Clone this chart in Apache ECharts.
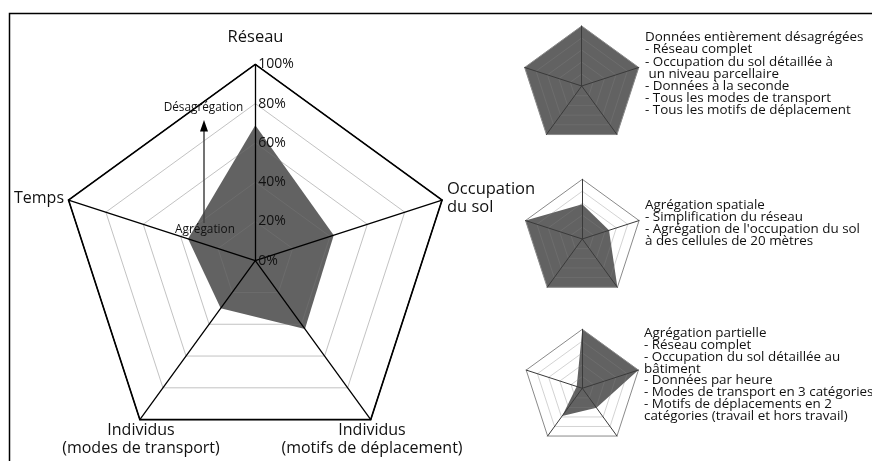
<!DOCTYPE html>
<html>
<head>
<meta charset="utf-8">
<script src="https://cdn.jsdelivr.net/npm/echarts@6/dist/echarts.min.js"></script>
<style>
html,body{margin:0;padding:0;background:#fff;}
#chart{width:872px;height:461px;}
</style>
</head>
<body>
<div id="chart"></div>
<script>
// Axes (ECharts radar places indicators counter-clockwise from the top)
const axisNames = ['Réseau', 'Temps', 'Individus\n(modes de transport)', 'Individus\n(motifs de déplacement)', 'Occupation\ndu sol'];
const tickValues = [0, 20, 40, 60, 80, 100];

// Values (% of disaggregation) in the same order as axisNames
const mainValues = [69, 36, 30, 43, 42];
const fullValues = [100, 100, 100, 100, 100];
const spatialValues = [58, 100, 100, 100, 47];
const partialValues = [100, 10, 58, 41, 100];

const block1 = ['Données entièrement désagrégées', '- Réseau complet', '- Occupation du sol détaillée à', ' un niveau parcellaire', '- Données à la seconde', '- Tous les modes de transport', '- Tous les motifs de déplacement'];
const block2 = ['Agrégation spatiale', '- Simplification du réseau', "- Agrégation de l'occupation du sol", 'à des cellules de 20 mètres'];
const block3 = ['Agrégation partielle', '- Réseau complet', '- Occupation du sol détaillée au', 'bâtiment', '- Données par heure', '- Modes de transport en 3 catégories', '- Motifs de déplacements en 2', 'catégories (travail et hors travail)'];

const FONT = '"Open Sans", "Noto Sans", sans-serif';
const indicator = axisNames.map(n => ({ name: n, min: 0, max: 100 }));
const gridGray = 'rgba(120,120,120,0.45)';

function smallRadar(cx, cy, r, z) {
  return {
    center: [cx, cy], radius: r, startAngle: 90, splitNumber: 5, shape: 'polygon',
    indicator: indicator, z: z || 3,
    axisName: { show: false },
    axisLine: { lineStyle: { color: '#3a3a3a', width: 1 } },
    axisTick: { show: false }, axisLabel: { show: false },
    splitArea: { show: false },
    splitLine: { lineStyle: { color: ['rgba(0,0,0,0)', 'rgba(130,130,130,0.35)', 'rgba(130,130,130,0.35)', 'rgba(130,130,130,0.35)', 'rgba(130,130,130,0.35)', '#8a8a8a'], width: 1 } }
  };
}

const mainC = [255.3, 260.7], mainR = 196.4;

const option = {
  backgroundColor: '#fff',
  animation: false,
  textStyle: { fontFamily: FONT },
  radar: [
    {
      center: mainC, radius: mainR, startAngle: 90, splitNumber: 5, shape: 'polygon',
      indicator: indicator, z: 3,
      axisName: { show: false },
      axisLine: { lineStyle: { color: '#000', width: 1.3 } },
      axisTick: { show: false }, axisLabel: { show: false },
      splitArea: { show: false },
      splitLine: { lineStyle: { color: ['rgba(0,0,0,0)', gridGray, gridGray, gridGray, gridGray, '#000'], width: 1 } }
    },
    {
      center: mainC, radius: mainR, startAngle: 90, splitNumber: 1, shape: 'polygon',
      indicator: indicator, z: 4,
      axisName: { show: false },
      axisLine: { show: false }, axisTick: { show: false }, axisLabel: { show: false },
      splitArea: { show: false },
      splitLine: { lineStyle: { color: ['rgba(0,0,0,0)', '#000'], width: 1.6 } }
    },
    smallRadar(581.7, 86, 60),
    smallRadar(582.3, 239, 59.7),
    smallRadar(582.3, 388.3, 59)
  ],
  grid: { left: mainC[0], top: mainC[1] - mainR, height: mainR, width: 1, containLabel: false, z: 6 },
  xAxis: { type: 'value', show: false, min: 0, max: 1 },
  yAxis: {
    type: 'value', min: 0, max: 100, interval: 20, position: 'left', z: 6,
    axisLine: { show: false }, axisTick: { show: false }, splitLine: { show: false },
    axisLabel: { inside: true, margin: 3, formatter: '{value}%', color: '#111', fontSize: 14, fontFamily: FONT, verticalAlign: 'middle', padding: [0, 0, 5, 0] }
  },
  series: [
    { type: 'radar', radarIndex: 0, symbol: 'none', lineStyle: { width: 0 }, areaStyle: { color: '#626262', opacity: 1 }, data: [{ value: mainValues }] },
    { type: 'radar', radarIndex: 2, symbol: 'none', lineStyle: { width: 0 }, areaStyle: { color: '#626262', opacity: 1 }, data: [{ value: fullValues }] },
    { type: 'radar', radarIndex: 3, symbol: 'none', lineStyle: { width: 0 }, areaStyle: { color: '#626262', opacity: 1 }, data: [{ value: spatialValues }] },
    { type: 'radar', radarIndex: 4, symbol: 'none', lineStyle: { width: 0 }, areaStyle: { color: '#626262', opacity: 1 }, data: [{ value: partialValues }] }
  ],
  graphic: [
    { type: 'rect', shape: { x: 9.5, y: 13.5, width: 900, height: 500 }, style: { fill: 'none', stroke: '#000', lineWidth: 1.5 }, z: 10 },
    // axis names of the main radar
    { type: 'text', x: 255.5, y: 37, style: { text: axisNames[0], font: '16.5px ' + FONT, fill: '#111', align: 'center', verticalAlign: 'middle' }, z: 10 },
    { type: 'text', x: 64, y: 198, style: { text: axisNames[1], font: '16px ' + FONT, fill: '#111', align: 'right', verticalAlign: 'middle' }, z: 10 },
    { type: 'text', x: 141, y: 421, style: { text: axisNames[2], font: '16px ' + FONT, lineHeight: 18.5, fill: '#111', align: 'center', verticalAlign: 'top' }, z: 10 },
    { type: 'text', x: 372, y: 421, style: { text: axisNames[3], font: '16px ' + FONT, lineHeight: 18.5, fill: '#111', align: 'center', verticalAlign: 'top' }, z: 10 },
    { type: 'text', x: 447, y: 180, style: { text: axisNames[4], font: '16.5px ' + FONT, lineHeight: 18.5, fill: '#111', align: 'left', verticalAlign: 'top' }, z: 10 },
    // arrow
    { type: 'line', shape: { x1: 204, y1: 223, x2: 204, y2: 130 }, style: { stroke: '#444', lineWidth: 1.5 }, z: 10 },
    { type: 'polygon', shape: { points: [[204, 120], [200, 131.5], [208, 131.5]] }, style: { fill: '#000' }, z: 10 },
    { type: 'text', x: 203.5, y: 108, style: { text: 'Désagrégation', font: '11.8px ' + FONT, fill: '#111', align: 'center', verticalAlign: 'middle' }, z: 11 },
    { type: 'text', x: 205, y: 229.5, style: { text: 'Agrégation', font: '11.8px ' + FONT, fill: '#111', align: 'center', verticalAlign: 'middle' }, z: 11 },
    // descriptive texts
    { type: 'text', x: 645, y: 31.2, style: { text: block1.join('\n'), font: '13.4px ' + FONT, lineHeight: 12.2, fill: '#111', align: 'left', verticalAlign: 'top' }, z: 10 },
    { type: 'text', x: 645, y: 199, style: { text: block2.join('\n'), font: '13.4px ' + FONT, lineHeight: 12, fill: '#111', align: 'left', verticalAlign: 'top' }, z: 10 },
    { type: 'text', x: 644, y: 327.4, style: { text: block3.join('\n'), font: '13.4px ' + FONT, lineHeight: 11.8, fill: '#111', align: 'left', verticalAlign: 'top' }, z: 10 }
  ]
};

const chart = echarts.init(document.getElementById('chart'), null, { renderer: 'canvas' });
chart.setOption(option);
</script>
</body>
</html>
